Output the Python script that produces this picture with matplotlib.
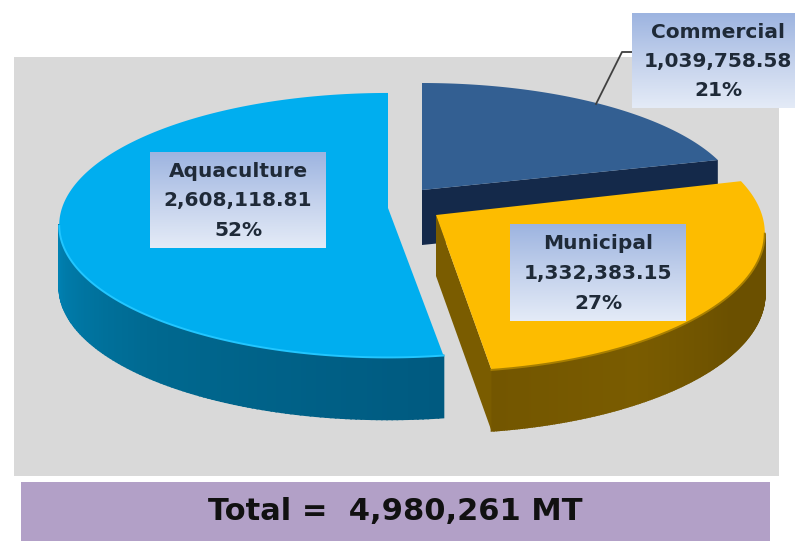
import numpy as np
import matplotlib
matplotlib.use("Agg")
import matplotlib.pyplot as plt
from matplotlib.colors import LinearSegmentedColormap as LSC

categories = ["Commercial", "Municipal", "Aquaculture"]
values = [1039758.58, 1332383.15, 2608118.81]
value_labels = ["1,039,758.58", "1,332,383.15", "2,608,118.81"]
pct_labels = ["21%", "27%", "52%"]
total_label = "Total =  4,980,261 MT"

plt.rcParams["font.family"] = ["DejaVu Sans"]
W, H = 795, 541
fig = plt.figure(figsize=(W / 100, H / 100), dpi=100, facecolor="white")
ax = fig.add_axes([0, 0, 1, 1])
ax.set_xlim(0, W)
ax.set_ylim(H, 0)
ax.axis("off")

RX, RY, K = 326, 130, 0.13
tips = [(422, 190), (436, 215), (388, 208)]
scale_x = [0.97, 1.0, 1.0]
scale_y = [0.93, 1.05, 1.0]
depths = [55, 61, 62]
tops = ["#335f92", "#fdbc00", "#00aeef"]
wall_maps = [
    ["#14294a", "#14294a"],
    ["#6b5000", "#6b5000", "#6b5000", "#7a5c00", "#735600"],
    ["#005a80", "#00688f", "#0083b5", "#0090c4", "#0097cf"],
]
cut_colors = ["#14294a", "#7a5c00", None]
rims = [None, "#a87f00", "#22c6ff"]


def project(theta, i):
    x, y = np.cos(theta), np.sin(theta)
    d = 1 + K * y
    return tips[i][0] + scale_x[i] * RX * x / d, tips[i][1] - scale_y[i] * RY * y / d


ax.fill_between([14, 779], 57, 476, color="#d9d9d9", lw=0, zorder=1)
ax.fill_between([21, 770], 482, 541, color="#b2a0c7", lw=0, zorder=1)

fractions = np.array(values) / np.sum(values)
start = np.pi / 2
z = 2
for i, name in enumerate(categories):
    end = start - 2 * np.pi * fractions[i]
    th = np.linspace(start, end, 240)
    px, py = project(th, i)
    tx, ty = tips[i]
    dep = depths[i]
    cmap = LSC.from_list(name, wall_maps[i])
    # outer wall: only the part that faces the viewer
    for j in range(len(th) - 1):
        if np.sin(th[j]) > -K:
            continue
        c = cmap(j / (len(th) - 2))
        ax.fill([px[j], px[j + 1], px[j + 1], px[j]],
                [py[j], py[j + 1], py[j + 1] + dep, py[j] + dep],
                color=c, lw=1.2, zorder=z)
    # cut wall facing the viewer
    if cut_colors[i]:
        ex, ey = px[-1], py[-1]
        ax.fill([tx, ex, ex, tx], [ty, ey, ey + dep, ty + dep],
                color=cut_colors[i], lw=0, zorder=z + 0.1)
    # top face
    ax.fill(np.r_[tx, px], np.r_[ty, py], color=tops[i], lw=0, zorder=z + 0.2)
    if rims[i]:
        front = np.sin(th) < -K
        ax.plot(px[front], py[front], color=rims[i], lw=1.4, zorder=z + 0.3)
    start = end
    z += 1

# data labels
boxes = [(632, 795, 13, 108), (510, 686, 224, 321), (150, 326, 152, 248)]
grad = np.linspace(0, 1, 128)[:, None]
box_cmap = LSC.from_list("box", ["#9db4e0", "#c3d1ec", "#e4ebf7"])
ax.plot([596, 622, 632], [104, 52, 52], color="#404040", lw=1.3, zorder=9)
for i, name in enumerate(categories):
    x0, x1, y0, y1 = boxes[i]
    ax.imshow(grad, extent=(x0, x1, y1, y0), cmap=box_cmap, aspect="auto", zorder=10)
    cx = (x0 + x1) / 2 if i else 718
    for line, yy in zip([name, value_labels[i], pct_labels[i]], [0.2, 0.51, 0.82]):
        ax.text(cx, y0 + (y1 - y0) * yy, line, ha="center", va="center", fontsize=14.5,
                fontweight="bold", color="#1f2a38", zorder=11)
ax.set_xlim(0, W)
ax.set_ylim(H, 0)
ax.text(395, 512, total_label, ha="center", va="center", fontsize=22,
        fontweight="bold", color="#111111", zorder=11)
fig.savefig("out.png", dpi=100)
